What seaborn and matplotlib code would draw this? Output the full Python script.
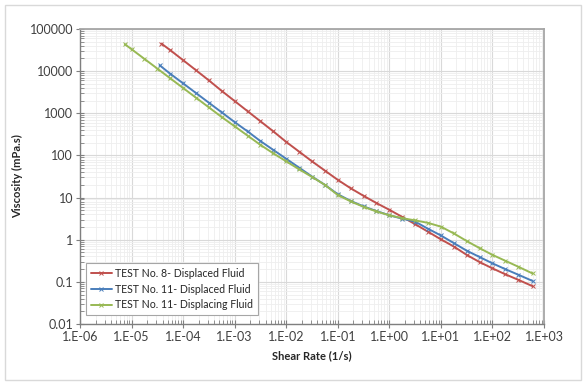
import math

import matplotlib
matplotlib.use("Agg")
from matplotlib import pyplot as plt
from matplotlib import ticker
from matplotlib.patches import Rectangle
import pandas as pd
import seaborn as sns

# Series (shear rate in 1/s, viscosity in mPa.s)
red_rate = [3.8e-5, 5.6e-5, 1e-4, 1.78e-4, 3.16e-4, 5.62e-4, 1e-3, 1.78e-3, 3.16e-3, 5.62e-3,
            1e-2, 1.78e-2, 3.16e-2, 5.62e-2, 0.1, 0.178, 0.316, 0.562, 1, 1.78,
            3.16, 5.62, 10, 17.8, 31.6, 56.2, 100, 178, 316, 600]
red_visc = [45000, 31600, 18200, 10500, 6030, 3390, 1950, 1120, 646, 372,
            209, 123, 72.4, 43.7, 26.3, 16.6, 11.0, 7.41, 5.13, 3.47,
            2.34, 1.55, 1.02, 0.69, 0.437, 0.295, 0.209, 0.151, 0.112, 0.079]

blue_rate = [3.5e-5, 5.6e-5, 1e-4, 1.78e-4, 3.16e-4, 5.62e-4, 1e-3, 1.78e-3, 3.16e-3, 5.62e-3,
             1e-2, 1.78e-2, 3.16e-2, 5.62e-2, 0.1, 0.178, 0.316, 0.562, 1, 1.78,
             3.16, 5.62, 10, 17.8, 31.6, 56.2, 100, 178, 316, 600]
blue_visc = [13800, 8710, 5130, 3020, 1780, 1050, 617, 372, 219, 135,
             83.2, 51.3, 31.6, 20.0, 12.0, 8.32, 6.17, 4.79, 3.80, 3.16,
             2.69, 1.82, 1.26, 0.832, 0.550, 0.389, 0.275, 0.200, 0.148, 0.105]

green_rate = [7.4e-6, 1e-5, 1.78e-5, 3.16e-5, 5.62e-5, 1e-4, 1.78e-4, 3.16e-4, 5.62e-4, 1e-3,
              1.78e-3, 3.16e-3, 5.62e-3, 1e-2, 1.78e-2, 3.16e-2, 5.62e-2, 0.1, 0.178, 0.316,
              0.562, 1, 1.78, 3.16, 5.62, 10, 17.8, 31.6, 56.2, 100, 178, 316, 600]
green_visc = [43600, 33100, 19500, 11500, 6760, 3980, 2340, 1380, 813, 490,
              295, 178, 112, 72.4, 46.8, 30.9, 20.0, 11.5, 8.13, 6.03,
              4.68, 3.80, 3.24, 2.88, 2.51, 2.04, 1.41, 0.933, 0.631, 0.437,
              0.316, 0.229, 0.158]

labels = ["TEST No. 8- Displaced Fluid",
          "TEST No. 11- Displaced Fluid",
          "TEST No. 11- Displacing Fluid"]
colors = ["#c0504d", "#4a7ebb", "#98b954"]

# Build a long table for seaborn
frames = []
for lab, xs, ys in zip(labels, [red_rate, blue_rate, green_rate], [red_visc, blue_visc, green_visc]):
    frames.append(pd.DataFrame({"rate": xs, "visc": ys, "series": lab}))
df = pd.concat(frames, ignore_index=True)

sns.set_style("white")
plt.rcParams["font.family"] = ["Lato", "DejaVu Sans"]

fig = plt.figure(figsize=(5.86, 3.85), dpi=100)
ax = fig.add_axes([80 / 586, 1 - 324 / 385, 464 / 586, 295 / 385])

# light chart-area border
fig.patches.append(Rectangle((5 / 586, 5 / 385), 576 / 586, 375 / 385, transform=fig.transFigure,
                             fill=False, edgecolor="#d9d9d9", linewidth=1))

sns.lineplot(data=df, x="rate", y="visc", hue="series", hue_order=labels, palette=colors,
             estimator=None, sort=False, marker="x", markersize=3.5, markeredgewidth=0.7,
             linewidth=1.4, legend=False, ax=ax)

# seaborn paints marker edges white; give the x markers the line colour
lines = ax.get_lines()[:3]
for ln in lines:
    ln.set_markeredgecolor(ln.get_color())

ax.set_xscale("log")
ax.set_yscale("log")
ax.set_xlim(1e-6, 1e3)
ax.set_ylim(0.01, 100000)

ax.xaxis.set_major_locator(ticker.LogLocator(base=10, numticks=20))
ax.yaxis.set_major_locator(ticker.LogLocator(base=10, numticks=20))
ax.xaxis.set_minor_locator(ticker.LogLocator(base=10, subs=range(2, 10), numticks=100))
ax.yaxis.set_minor_locator(ticker.LogLocator(base=10, subs=range(2, 10), numticks=100))
ax.xaxis.set_major_formatter(ticker.FuncFormatter(
    lambda v, p: "1.E{:+03d}".format(int(round(math.log10(v))))))
ax.yaxis.set_major_formatter(ticker.FuncFormatter(lambda v, p: "{:g}".format(v)))
ax.xaxis.set_minor_formatter(ticker.NullFormatter())
ax.yaxis.set_minor_formatter(ticker.NullFormatter())

ax.grid(which="major", color="#d9d9d9", linewidth=0.8)
ax.grid(which="minor", color="#eeeeee", linewidth=0.6)
ax.set_axisbelow(True)

ax.tick_params(which="major", direction="inout", length=6, width=0.8, color="#7f7f7f",
               labelsize=9, labelcolor="#404040", pad=2)
ax.tick_params(which="minor", direction="in", length=3, width=0.6, color="#7f7f7f")
ax.tick_params(axis="x", which="both", bottom=True)
ax.tick_params(axis="y", which="both", left=True)

for side in ["left", "bottom"]:
    ax.spines[side].set_color("#7f7f7f")
    ax.spines[side].set_linewidth(1)
for side in ["top", "right"]:
    ax.spines[side].set_color("#a6a6a6")
    ax.spines[side].set_linewidth(1.3)

ax.set_xlabel("")
ax.set_ylabel("")
fig.text(18 / 586, 1 - 176 / 385, "Viscosity (mPa.s)", rotation=90, ha="center", va="center",
         fontsize=8, fontweight="bold", color="#262626")
fig.text(312 / 586, 1 - 356 / 385, "Shear Rate (1/s)", ha="center", va="center",
         fontsize=8, fontweight="bold", color="#262626")

leg = ax.legend(handles=lines, labels=labels, loc="lower left", bbox_to_anchor=(0.013, 0.03),
                borderaxespad=0, fontsize=7.6, frameon=True, fancybox=False, framealpha=1,
                edgecolor="#a6a6a6", handlelength=2.0, labelspacing=0.45,
                handletextpad=0.3, borderpad=0.45)
leg.get_frame().set_linewidth(0.8)
for t in leg.get_texts():
    t.set_color("#262626")

fig.savefig("out.png", dpi=100)
